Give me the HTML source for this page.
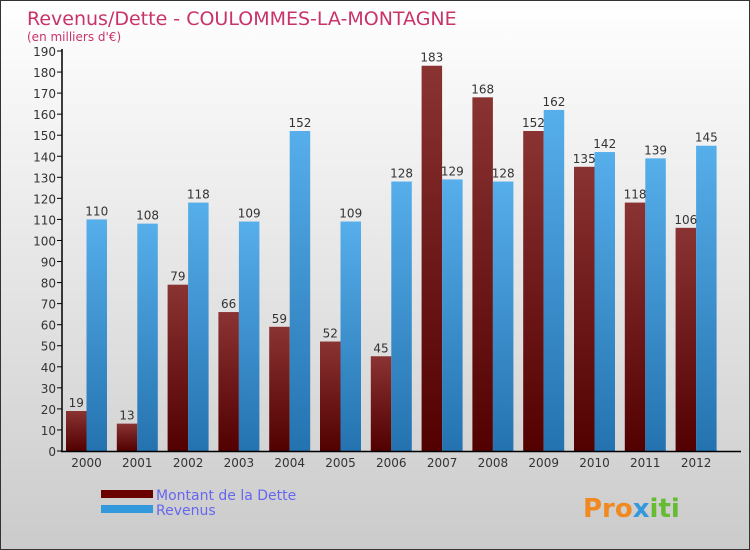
<!DOCTYPE html>
<html><head><meta charset="utf-8"><style>
body{margin:0}
#c{width:750px;height:550px;position:relative;box-sizing:border-box;border:1px solid #333;background:linear-gradient(#fff,#cbcbcb);font-family:"DejaVu Sans","Liberation Sans",sans-serif;overflow:hidden}
</style></head><body>
<div id="c">
<svg id="s" width="750" height="550">
<defs>
<linearGradient id="gd" x1="0" y1="0" x2="0" y2="1"><stop offset="0" stop-color="#8a3333"/><stop offset="1" stop-color="#520000"/></linearGradient>
<linearGradient id="gr" x1="0" y1="0" x2="0" y2="1"><stop offset="0" stop-color="#56aeea"/><stop offset="1" stop-color="#2473b0"/></linearGradient>
</defs>
<text x="26" y="24" font-size="19" fill="#c8336a">Revenus/Dette - COULOMMES-LA-MONTAGNE</text>
<text x="26" y="40" font-size="12" fill="#c8336a">(en milliers d'€)</text>
<g id="plot"></g>
<rect x="100" y="489" width="52" height="8" fill="#6b0000"/>
<rect x="100" y="504" width="52" height="8" fill="#3399dd"/>
<text x="155" y="499" font-size="14" fill="#6666ee">Montant de la Dette</text>
<text x="155" y="514" font-size="14" fill="#6666ee">Revenus</text>
<text x="582" y="516" font-size="26" font-weight="bold" fill="#f08a20">Pro<tspan fill="#3399dd">x</tspan><tspan fill="#66bb33">iti</tspan></text>
</svg></div>
<script>
const years=["2000","2001","2002","2003","2004","2005","2006","2007","2008","2009","2010","2011","2012"];
const dette=[19,13,79,66,59,52,45,183,168,152,135,118,106];
const revenus=[110,108,118,109,152,109,128,129,128,162,142,139,145];
const ticks=[0,10,20,30,40,50,60,70,80,90,100,110,120,130,140,150,160,170,180,190];
const NS="http://www.w3.org/2000/svg",g=document.getElementById("plot");
const y=v=>450-v*400/190, x0=i=>65+i*50.8, bw=20.5;
function el(t,a,txt){const e=document.createElementNS(NS,t);for(const k in a)e.setAttribute(k,a[k]);if(txt!=null)e.textContent=txt;g.appendChild(e);return e;}
ticks.forEach(t=>{
 const l=el("line",{x1:56,x2:61,y1:y(t),y2:y(t),stroke:"#000"});
 
 
 const tx=el("text",{x:55,y:y(t)+5,"font-size":12,fill:"#333","text-anchor":"end"},t);
 
 
});
years.forEach((yr,i)=>{
 const a=el("rect",{x:x0(i),y:y(dette[i]),width:bw,height:450-y(dette[i]),fill:"url(#gd)"});
 
 
 const b=el("rect",{x:x0(i)+bw,y:y(revenus[i]),width:bw,height:450-y(revenus[i]),fill:"url(#gr)"});
 
 
 const la=el("text",{x:x0(i)+bw/2,y:y(dette[i])-4,"font-size":12,fill:"#333","text-anchor":"middle"},dette[i]);
 
 
 const lb=el("text",{x:x0(i)+bw*1.5,y:y(revenus[i])-4,"font-size":12,fill:"#333","text-anchor":"middle"},revenus[i]);
 
 
 const xt=el("text",{x:x0(i)+bw,y:466,"font-size":12,fill:"#333","text-anchor":"middle"},yr);
 
 
});
const ax=el("line",{x1:61,x2:61,y1:48,y2:451,stroke:"#000","stroke-width":1.5});


const bx=el("line",{x1:60,x2:740,y1:450.5,y2:450.5,stroke:"#000","stroke-width":1.5});


</script>
</body></html>
